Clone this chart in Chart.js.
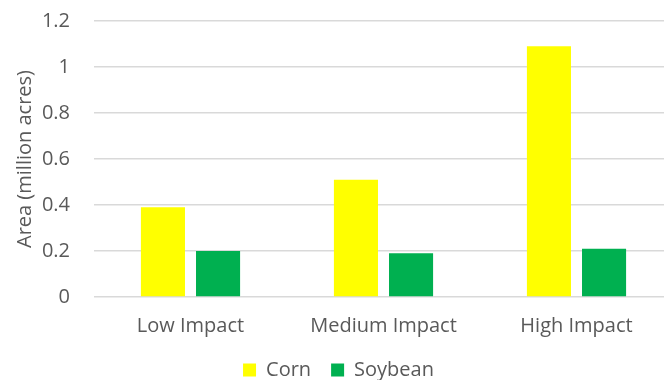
<!DOCTYPE html>
<html lang="en">
<head>
  <meta charset="UTF-8">
  <title>Area by Impact</title>
  <script src="https://cdn.jsdelivr.net/npm/chart.js"></script>
  <style>
    html, body { margin: 0; padding: 0; background: #fff; overflow: hidden; }
    /* plot is a bit wider/taller than the window, like the cropped original */
    #wrap { width: 673px; height: 390px; }
  </style>
</head>
<body>
  <div id="wrap"><canvas id="chartCanvas"></canvas></div>
  <script>
    const categories = ['Low Impact', 'Medium Impact', 'High Impact'];
    const cornValues = [0.39, 0.51, 1.09];
    const soybeanValues = [0.20, 0.19, 0.21];
    const yTicks = [0, 0.2, 0.4, 0.6, 0.8, 1, 1.2];

    const textColor = '#595959';
    const fontFamily = '"Open Sans", sans-serif';

    const ctx = document.getElementById('chartCanvas').getContext('2d');
    new Chart(ctx, {
      type: 'bar',
      data: {
        labels: categories,
        datasets: [
          { label: 'Corn', data: cornValues, backgroundColor: '#FFFF00' },
          { label: 'Soybean', data: soybeanValues, backgroundColor: '#00B050' }
        ]
      },
      options: {
        responsive: true,
        maintainAspectRatio: false,
        animation: false,
        categoryPercentage: 0.571,
        barPercentage: 0.8,
        layout: { padding: { top: 21, left: 4, right: 0, bottom: 0 } },
        plugins: {
          tooltip: { enabled: false },
          legend: {
            position: 'bottom',
            labels: {
              color: textColor,
              font: { family: fontFamily, size: 20 },
              boxWidth: 13,
              boxHeight: 13,
              padding: 20
            }
          }
        },
        scales: {
          x: {
            grid: { display: false, drawTicks: false },
            border: { display: false },
            ticks: { color: textColor, font: { family: fontFamily, size: 20 }, padding: 17 },
            afterFit: s => { s.height = 43; }
          },
          y: {
            min: 0,
            max: 1.2,
            afterBuildTicks: s => { s.ticks = yTicks.map(v => ({ value: v })); },
            grid: { color: '#D9D9D9', lineWidth: 1.5, drawTicks: false },
            border: { display: false },
            ticks: {
              color: textColor,
              font: { family: fontFamily, size: 20 },
              padding: 24,
              callback: v => String(v)
            },
            title: {
              display: true,
              text: 'Area (million acres)',
              color: textColor,
              font: { family: fontFamily, size: 20 },
              padding: { top: 9, bottom: 4 }
            },
            afterFit: s => {
              s.width = 90;
              // let the layout padding alone decide the top of the plot
              s.paddingTop = 0;
              s.paddingBottom = 0;
            }
          }
        }
      }
    });
  </script>
</body>
</html>
